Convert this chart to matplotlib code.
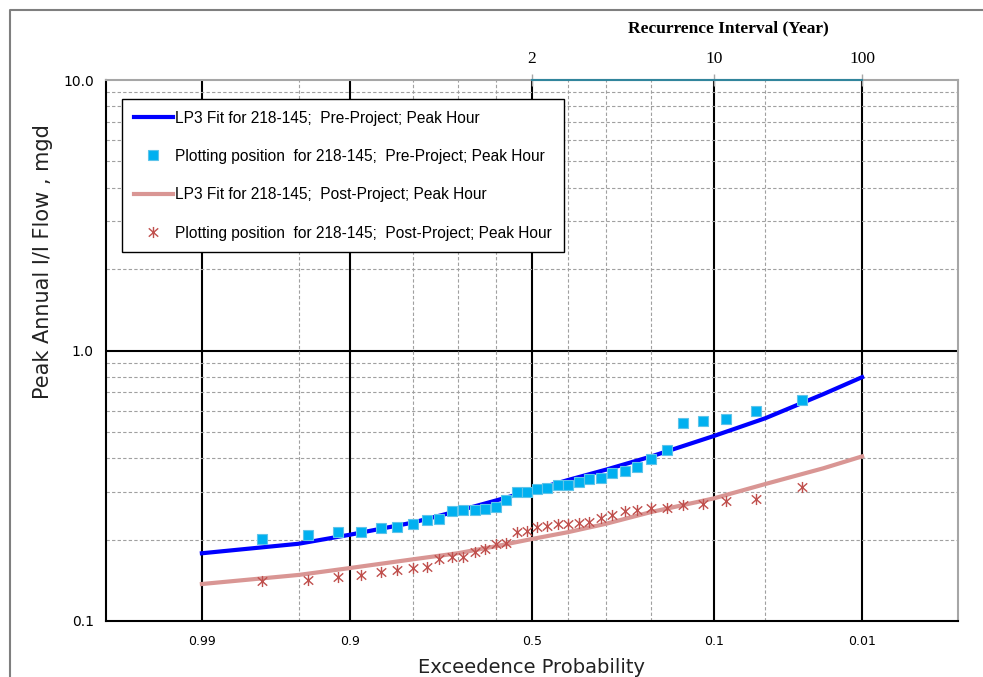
import matplotlib
matplotlib.use('Agg')
import matplotlib.pyplot as plt
from matplotlib.lines import Line2D
from matplotlib.path import Path
from matplotlib.ticker import NullLocator
import numpy as np
from statistics import NormalDist

# Plotting positions (exceedance probability) for the 34 annual peaks
plot_prob = [0.9714, 0.9429, 0.9143, 0.8857, 0.8571, 0.8286, 0.8000, 0.7714, 0.7429,
             0.7143, 0.6857, 0.6571, 0.6286, 0.6000, 0.5714, 0.5429, 0.5143, 0.4857,
             0.4571, 0.4286, 0.4000, 0.3714, 0.3429, 0.3143, 0.2857, 0.2571, 0.2286,
             0.2000, 0.1714, 0.1429, 0.1143, 0.0857, 0.0571, 0.0286]

pre_peaks = [0.201, 0.208, 0.213, 0.214, 0.220, 0.222, 0.229, 0.237, 0.239, 0.254,
             0.257, 0.258, 0.260, 0.264, 0.281, 0.301, 0.301, 0.307, 0.310, 0.318,
             0.319, 0.326, 0.336, 0.338, 0.352, 0.360, 0.372, 0.398, 0.430, 0.541,
             0.551, 0.557, 0.597, 0.655]

post_peaks = [0.141, 0.142, 0.146, 0.148, 0.152, 0.154, 0.157, 0.159, 0.170, 0.172,
              0.173, 0.180, 0.184, 0.193, 0.194, 0.214, 0.215, 0.223, 0.224, 0.228,
              0.229, 0.231, 0.233, 0.240, 0.246, 0.255, 0.258, 0.261, 0.261, 0.269,
              0.270, 0.277, 0.282, 0.314]

# LP3 fitted curves
fit_prob = [0.99, 0.95, 0.9, 0.8, 0.7, 0.6, 0.5, 0.4, 0.3, 0.2, 0.1, 0.05, 0.02, 0.01]
pre_fit = [0.178, 0.193, 0.2085, 0.231, 0.255, 0.279, 0.304, 0.332, 0.363, 0.406,
           0.483, 0.562, 0.690, 0.797]
post_fit = [0.137, 0.148, 0.157, 0.169, 0.178, 0.189, 0.201, 0.213, 0.229, 0.253,
            0.284, 0.321, 0.367, 0.406]

major_prob = [0.99, 0.9, 0.5, 0.1, 0.01]
major_prob_labels = ['0.99', '0.9', '0.5', '0.1', '0.01']
minor_prob = [0.95, 0.8, 0.7, 0.6, 0.4, 0.3, 0.2, 0.05]
ri_prob = [0.5, 0.1, 0.01]
ri_labels = ['2', '10', '100']

nd = NormalDist()


def fwd(p):
    p = np.clip(np.asarray(p, dtype=float), 1e-10, 1 - 1e-10)
    return np.vectorize(nd.inv_cdf, otypes=[float])(p)


def inv(z):
    return np.vectorize(nd.cdf, otypes=[float])(np.asarray(z, dtype=float))


# asterisk like the Excel one: vertical bar plus an X
star = Path([(0, -1), (0, 1), (-0.85, -0.75), (0.85, 0.75), (-0.85, 0.75), (0.85, -0.75)],
            [Path.MOVETO, Path.LINETO, Path.MOVETO, Path.LINETO, Path.MOVETO, Path.LINETO])

xlim = (nd.cdf(3.0), nd.cdf(-3.0))

fig = plt.figure(figsize=(9.83, 6.77), dpi=100)
ax = fig.add_axes([106.3 / 983, 1 - 621 / 677, 851.4 / 983, 541 / 677])

ax.set_xscale('function', functions=(fwd, inv))
ax.set_yscale('log')
ax.set_xlim(xlim)
ax.set_ylim(0.1, 10)

# grid
ax.set_xticks(major_prob, major_prob_labels)
ax.set_xticks(minor_prob, minor=True)
ax.set_yticks([0.1, 1, 10], ['0.1', '1.0', '10.0'])
ax.set_yticks([v * d for d in (0.1, 1) for v in range(2, 10)], minor=True)
ax.yaxis.set_minor_formatter(plt.NullFormatter())
ax.set_axisbelow(True)
ax.grid(which='major', axis='x', color='black', lw=1.5, ls='-')
ax.grid(which='minor', axis='both', color='#a0a0a0', lw=0.8, ls=(0, (3, 2)))
ax.axhline(1.0, color='black', lw=1.5, zorder=0.5)
ax.tick_params(which='both', length=0)
ax.tick_params(axis='x', labelsize=9, pad=10)
ax.tick_params(axis='y', labelsize=10, pad=9)

for s in ['left', 'bottom']:
    ax.spines[s].set_color('black')
    ax.spines[s].set_linewidth(1.5)
for s in ['top', 'right']:
    ax.spines[s].set_color('#a6a6a6')
    ax.spines[s].set_linewidth(1.5)

# data
ax.plot(fit_prob, pre_fit, color='#0000ff', lw=3,
        label='LP3 Fit for 218-145;  Pre-Project; Peak Hour')
ax.plot(plot_prob, pre_peaks, ls='none', marker='s', ms=6.5, mfc='#00b0f0',
        mec='#5ec4ea', mew=0.8,
        label='Plotting position  for 218-145;  Pre-Project; Peak Hour')
ax.plot(fit_prob, post_fit, color='#d99694', lw=3,
        label='LP3 Fit for 218-145;  Post-Project; Peak Hour')
ax.plot(plot_prob, post_peaks, ls='none', marker=star, ms=8, mec='#c0504d',
        mew=1.0, label='Plotting position  for 218-145;  Post-Project; Peak Hour')

leg = ax.legend(loc='upper left', bbox_to_anchor=(0.0188, 0.965), fancybox=False,
                framealpha=1, edgecolor='black', prop={'family': 'Liberation Sans', 'size': 11.2},
                handlelength=2.5, handletextpad=0.15, labelspacing=1.5,
                borderpad=0.75, borderaxespad=0)
leg.get_frame().set_linewidth(1.0)

ax.set_ylabel('Peak Annual I/I Flow , mgd', fontsize=15, color='#222222')
ax.yaxis.set_label_coords(-0.0626, 0.665)
ax.set_xlabel('Exceedence Probability', fontsize=14, color='#222222')
ax.xaxis.set_label_coords(0.5, -0.068)

# recurrence interval axis
ax2 = ax.twiny()
ax2.set_xscale('function', functions=(fwd, inv))
ax2.set_xlim(xlim)
ax2.set_xticks(ri_prob, ri_labels)
ax2.xaxis.set_minor_locator(NullLocator())
ax2.tick_params(axis='x', direction='inout', length=9, width=1, color='#a6a6a6',
                labelsize=12.5, pad=5)
for lab in ax2.get_xticklabels():
    lab.set_fontfamily('Liberation Serif')
for s in ['left', 'right', 'bottom']:
    ax2.spines[s].set_visible(False)
ax2.spines['top'].set_color('#31859c')
ax2.spines['top'].set_linewidth(1.5)
ax2.spines['top'].set_bounds(0.01, 0.5)

fig.text(728 / 983, 1 - 28 / 677, 'Recurrence Interval (Year)', ha='center', va='center',
         fontfamily='Liberation Serif', fontweight='bold', fontsize=12.5)

# outer frame
fig.add_artist(Line2D([9.5 / 983, 9.5 / 983, 1.0], [0.0, 1 - 9.5 / 677, 1 - 9.5 / 677],
                      transform=fig.transFigure, color='#7f7f7f', lw=1.5))

fig.savefig('out.png', dpi=100)
